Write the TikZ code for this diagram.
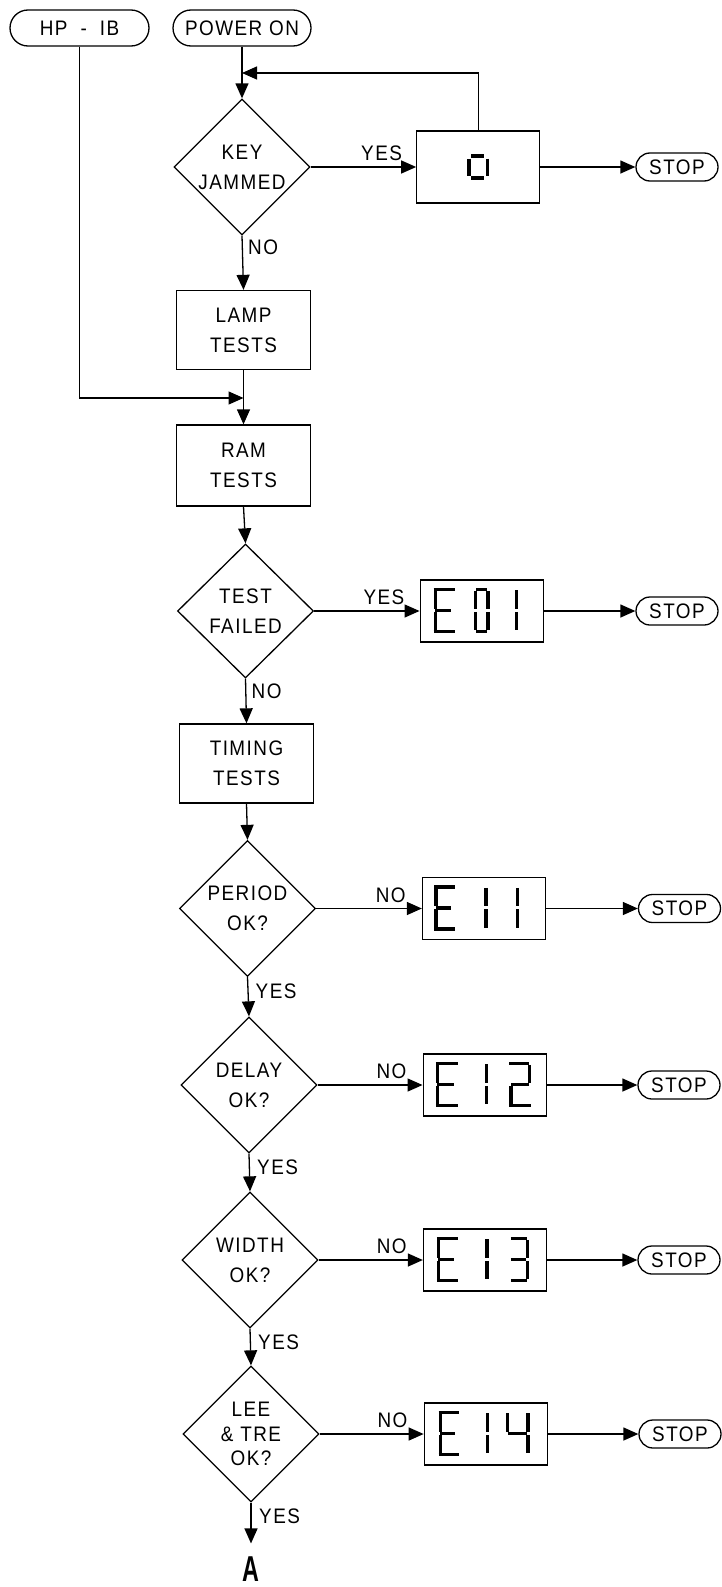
\documentclass[tikz,border=0pt]{standalone}
\usepackage{fontspec}
\usepackage{graphicx}
\setmainfont{Liberation Sans}[FakeStretch=0.9,LetterSpace=7]
\usetikzlibrary{arrows.meta,shapes.geometric,shapes.misc}
\newcommand\segH[3]{\draw[seg] (#1,#3)--(#2,#3);}
\newcommand\segV[3]{\draw[seg] (#1,#2)--(#1,#3);}
\newcommand\glyphE[2]{\segH{#1}{#2}{10}\segH{#1+1.5}{#2-4}{31}\segH{#1}{#2}{52}\segV{#1+1.6}{11.6}{29.6}\segV{#1+1.6}{32.4}{50.4}}
\newcommand\glyphOne[1]{\segV{#1}{11}{29.6}\segV{#1}{32.4}{51}}
\newcommand\glyphZero[2]{\segH{#1+2.8}{#2-2.8}{10}\segH{#1+2.8}{#2-2.8}{52}\segV{#1+1.6}{11.5}{29.6}\segV{#1+1.6}{32.4}{50.5}\segV{#2-1.6}{11.5}{29.6}\segV{#2-1.6}{32.4}{50.5}}
\newcommand\glyphTwo[2]{\segH{#1}{#2-2}{10}\segV{#2-1.6}{11.6}{29.6}\segH{#1+2}{#2-2}{31}\segV{#1+1.6}{32.4}{50.4}\segH{#1}{#2}{52}}
\newcommand\glyphThree[2]{\segH{#1}{#2-2}{10}\segV{#2-1.6}{11.6}{29.6}\segH{#1}{#2-3}{31}\segV{#2-1.6}{32.4}{50.4}\segH{#1}{#2-2}{52}}
\newcommand\glyphFour[2]{\segV{#1+1.6}{11}{29.6}\segH{#1+2}{#2-2.8}{31}\segV{#2-1.6}{11}{29.6}\segV{#2-1.6}{32.4}{51}}
\tikzset{
  ln/.style={line width=1.3pt},
  arr/.style={ln,-{Triangle[length=15pt,width=13pt]}},
  term/.style={rounded rectangle, draw, ln, inner sep=0pt, minimum height=36pt},
  stopbox/.style={rounded rectangle, draw, ln, inner sep=0pt, minimum width=82pt, minimum height=28pt},
  procbox/.style={rectangle, draw, ln, minimum width=134pt, minimum height=80pt, align=center, inner sep=0pt},
  dispbox/.style={rectangle, draw, ln, minimum width=123pt, minimum height=62pt, inner sep=0pt},
  decision/.style={diamond, draw, ln, aspect=1, minimum width=136pt, minimum height=136pt, inner sep=0pt, align=center},
  lbl/.style={inner sep=0pt},
  seg/.style={line width=3.3pt, line cap=butt},
  segthick/.style={line width=3.8pt, line cap=butt},
}
\begin{document}
\begin{tikzpicture}[x=1pt,y=-1pt,font=\fontsize{21pt}{30pt}\selectfont]
\useasboundingbox (0,0) rectangle (722,1587);
% nodes
\node[term, minimum width=139pt] (hpib) at (79.5,28) {HP\hspace{13pt}-\hspace{13pt}IB};
\node[term, minimum width=138pt] (pwr) at (242,28) {POWER ON};
\node[decision] (d1) at (242,167) {KEY\\JAMMED};
\node[dispbox, minimum height=72pt] (b0) at (478.3,167) {};
\node[stopbox] (s1) at (677,167) {STOP};
\node[procbox, minimum height=79pt] (lamp) at (243.5,330) {LAMP\\TESTS};
\node[procbox, minimum height=81pt] (ram) at (243.5,465.5) {RAM\\TESTS};
\node[decision, minimum height=134pt] (d2) at (245.5,611) {TEST\\FAILED};
\node[dispbox] (b1) at (481.7,611) {};
\node[stopbox] (s2) at (677,611) {STOP};
\node[procbox, minimum height=79pt] (tim) at (246.5,763.5) {TIMING\\TESTS};
\node[decision] (d3) at (247.5,908.5) {PERIOD\\OK?};
\node[dispbox] (b2) at (484,908.5) {};
\node[stopbox] (s3) at (679.5,908.5) {STOP};
\node[decision] (d4) at (249,1085) {DELAY\\OK?};
\node[dispbox] (b3) at (484.7,1085) {};
\node[stopbox] (s4) at (679,1085) {STOP};
\node[decision] (d5) at (250,1260) {WIDTH\\OK?};
\node[dispbox] (b4) at (485,1260) {};
\node[stopbox] (s5) at (679,1260) {STOP};
\node[decision, font=\fontsize{21pt}{24.5pt}\selectfont] (d6) at (251,1434) {LEE\\\& TRE\\OK?};
\node[dispbox] (b5) at (485.8,1434) {};
\node[stopbox] (s6) at (680,1434) {STOP};
\node[inner sep=0pt, font=\bfseries\fontsize{36pt}{36pt}\selectfont] (a) at (251,1569) {\scalebox{0.72}[1]{A}};
% connectors
\coordinate (lp) at (242,73);
\coordinate (mg) at (243.5,398);
\draw[arr] (pwr.south) -- (d1.north);
\draw[arr] (b0.north) |- (lp);
\draw[arr] (d1.east) -- (b0.west);
\draw[arr] (b0.east) -- (s1.west);
\draw[arr] (d1.south) -- (lamp.north);
\draw[arr] (lamp.south) -- (ram.north);
\draw[arr] (hpib.south) |- (mg);
\draw[arr] (ram.south) -- (d2.north);
\draw[arr] (d2.east) -- (b1.west);
\draw[arr] (b1.east) -- (s2.west);
\draw[arr] (d2.south) -- (tim.north);
\draw[arr] (tim.south) -- (d3.north);
\draw[arr] (d3.east) -- (b2.west);
\draw[arr] (b2.east) -- (s3.west);
\draw[arr] (d3.south) -- (d4.north);
\draw[arr] (d4.east) -- (b3.west);
\draw[arr] (b3.east) -- (s4.west);
\draw[arr] (d4.south) -- (d5.north);
\draw[arr] (d5.east) -- (b4.west);
\draw[arr] (b4.east) -- (s5.west);
\draw[arr] (d5.south) -- (d6.north);
\draw[arr] (d6.east) -- (b5.west);
\draw[arr] (b5.east) -- (s6.west);
\draw[arr] (d6.south) -- ([yshift=13pt]a.north);
% labels
\node[lbl, anchor=south east] (l1) at ([xshift=-14pt,yshift=6pt]b0.west) {YES};
\node[lbl, anchor=north west] (l2) at ([xshift=6pt,yshift=-4pt]d1.south) {NO};
\node[lbl, anchor=south east] (l3) at ([xshift=-15pt,yshift=6pt]b1.west) {YES};
\node[lbl, anchor=north west] (l4) at ([xshift=6pt,yshift=-5pt]d2.south) {NO};
\node[lbl, anchor=south east] (l5) at ([xshift=-16pt,yshift=6pt]b2.west) {NO};
\node[lbl, anchor=north west] (l6) at ([xshift=8pt,yshift=-6pt]d3.south) {YES};
\node[lbl, anchor=south east] (l7) at ([xshift=-16pt,yshift=6pt]b3.west) {NO};
\node[lbl, anchor=north west] (l8) at ([xshift=8pt,yshift=-6pt]d4.south) {YES};
\node[lbl, anchor=south east] (l9) at ([xshift=-16pt,yshift=6pt]b4.west) {NO};
\node[lbl, anchor=north west] (l10) at ([xshift=8pt,yshift=-6pt]d5.south) {YES};
\node[lbl, anchor=south east] (l11) at ([xshift=-16pt,yshift=6pt]b5.west) {NO};
\node[lbl, anchor=north west] (l12) at ([xshift=8pt,yshift=-6pt]d6.south) {YES};
% display glyphs
\begin{scope}[shift={(b0.center)}]
  \draw[segthick] (-7,-11.2)--(6,-11.2);
  \draw[segthick] (-7,11.2)--(6,11.2);
  \draw[segthick] (-9.7,-8.5)--(-9.7,8.8);
  \draw[segthick] (9.2,-8.5)--(9.2,8.8);
\end{scope}
\begin{scope}[shift={(b1.north west)}]
  \glyphE{14}{35}\glyphZero{54}{70}\glyphOne{96.7}
\end{scope}
\begin{scope}[shift={(b2.north west)}]
  \glyphE{12.5}{33}\glyphOne{64}\glyphOne{95.6}
\end{scope}
\begin{scope}[shift={(b3.north west)}]
  \glyphE{13.3}{35}\glyphOne{64}\glyphTwo{86.7}{108.3}
\end{scope}
\begin{scope}[shift={(b4.north west)}]
  \glyphE{14}{35}\glyphOne{64}\glyphThree{88}{106}
\end{scope}
\begin{scope}[shift={(b5.north west)}]
  \glyphE{15}{35}\glyphOne{64}\glyphFour{82}{106}
\end{scope}
\end{tikzpicture}
\end{document}
